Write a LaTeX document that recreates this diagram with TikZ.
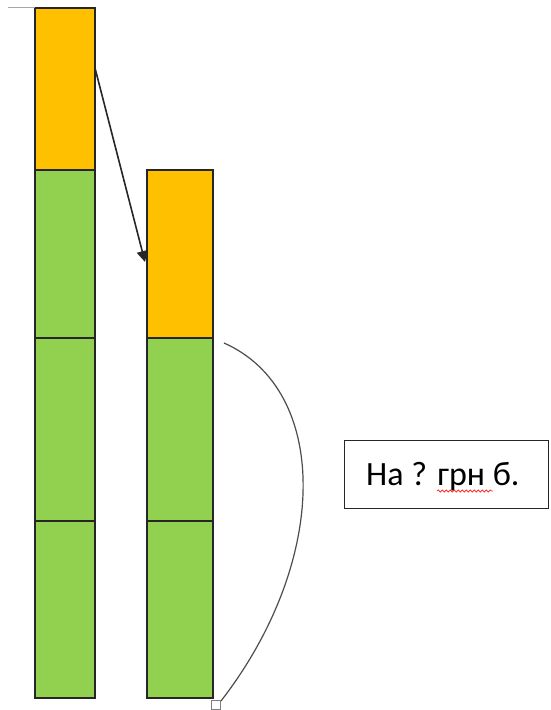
\documentclass[tikz,border=0pt]{standalone}
\usepackage{fontspec}
\setmainfont{Carlito}
\usetikzlibrary{arrows.meta,decorations.pathmorphing}
\definecolor{org}{HTML}{FFC000}
\definecolor{grn}{HTML}{92D050}
\begin{document}
\begin{tikzpicture}[x=1pt,y=-1pt,
  seg/.style={draw=black!85,line width=1.4pt},
  oseg/.style={seg,fill=org},
  gseg/.style={seg,fill=grn}]
\useasboundingbox (0,0) rectangle (550,710);
% left column
\draw[oseg] (35,8) rectangle (95,170);
\draw[gseg] (35,170) rectangle (95,338);
\draw[gseg] (35,338) rectangle (95,521);
\draw[gseg] (35,521) rectangle (95,698);
\draw[gray!70,line width=1pt] (8,7) -- (35,7);
% right column
\draw[oseg] (147,170) rectangle (213,338);
\draw[gseg] (147,338) rectangle (213,521);
\draw[gseg] (147,521) rectangle (213,698);
\coordinate (a1) at (95,68);
\coordinate (a2) at (145,262);
\draw[black!85,line width=1.6pt,-{Triangle[length=11pt,width=11pt]}] (a1) -- (a2);
\coordinate (b1) at (224,343);
\coordinate (b2) at (221,701);
\draw[black!70,line width=1.2pt] (b1) .. controls (330,390) and (330,560) .. (b2);
\draw[gray,line width=0.8pt,fill=white] (211,700) rectangle (220,709);
\node[draw=black!85,line width=1.4pt,minimum width=204pt,minimum height=68pt,anchor=north west,inner sep=0pt] (box) at (344,440) {};
\node[anchor=base west,font=\fontsize{34}{40}\selectfont,inner sep=0pt] (t) at (366,485) {На ? грн б.};
\draw[red!80,line width=0.8pt,decorate,decoration={snake,amplitude=1pt,segment length=4pt}] (437,491) -- (493,491);
\end{tikzpicture}
\end{document}
